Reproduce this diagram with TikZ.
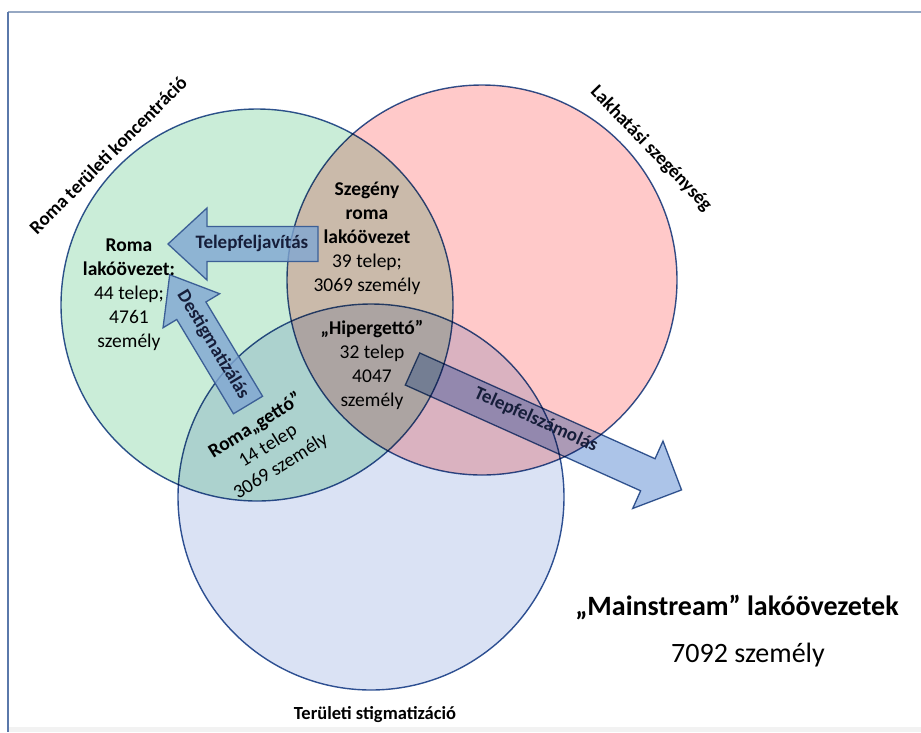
\documentclass[tikz,border=0pt]{standalone}
\usepackage{fontspec}
\setmainfont{Carlito}
\definecolor{cG}{RGB}{202,237,216}
\definecolor{cP}{RGB}{255,201,201}
\definecolor{cB}{RGB}{218,226,244}
\definecolor{cLine}{RGB}{50,85,150}
\definecolor{aFill}{RGB}{128,166,210}
\definecolor{aLine}{RGB}{60,95,150}
\definecolor{bFill}{RGB}{172,196,232}
\definecolor{aText}{RGB}{22,30,58}
\definecolor{frameL}{RGB}{90,120,170}
\definecolor{frameT}{RGB}{150,168,195}
\tikzset{
  venn/.style={draw=cLine, line width=1.4pt, blend mode=multiply},
  arrA/.style={draw=aLine, line width=1.3pt, fill=aFill, fill opacity=0.8},
  arrB/.style={draw=aLine, line width=1.3pt, fill=bFill, blend mode=multiply},
  body/.style={font=\fontsize{19.5}{24}\selectfont, align=center, text=black, inner sep=0pt},
  setlabel/.style={font=\fontsize{19}{22}\selectfont\bfseries, text=black, inner sep=0pt},
  arrlabel/.style={font=\fontsize{19}{22}\selectfont\bfseries, text=aText, inner sep=0pt},
  big/.style={font=\fontsize{28}{32}\selectfont, text=black, inner sep=0pt}
}
\begin{document}
\begin{tikzpicture}[x=1pt,y=-1pt]
\useasboundingbox (0,0) rectangle (921,732);
\fill[white] (0,0) rectangle (921,732);
\fill[black!5] (8,727) rectangle (921,732);
\draw[frameT, line width=1.2pt] (8,12) -- (921,12);
\draw[frameL, line width=1.4pt] (8,12) -- (8,732);
% circles
\path[venn, fill=cG] (257,305) circle[radius=196pt];
\path[venn, fill=cP] (482,280) circle[radius=195pt];
\path[venn, fill=cB] (371,497) circle[radius=193pt];
% arrows
\begin{scope}[shift={(318,244)}, rotate=180]
  \path[arrA] (0,17.5) -- (111,17.5) -- (111,36) -- (150,0) -- (111,-36) -- (111,-17.5) -- (0,-17.5) -- cycle;
\end{scope}
\begin{scope}[shift={(248,405)}, rotate=121]
  \path[arrA] (0,17) -- (110,17) -- (110,33) -- (152,0) -- (110,-33) -- (110,-17) -- (0,-17) -- cycle;
\end{scope}
\begin{scope}[shift={(412.5,369)}, rotate=-24.2]
  \path[arrB] (0,17.6) -- (258,17.6) -- (258,37) -- (295,0) -- (258,-37) -- (258,-17.6) -- (0,-17.6) -- cycle;
\end{scope}
% set labels
\node[setlabel, rotate=45] (lRoma) at (108,155) {Roma területi koncentráció};
\node[setlabel, rotate=-46] (lLak) at (651,149) {Lakhatási szegénység};
\node[setlabel, font=\fontsize{18.5}{22}\selectfont\bfseries] (lTer) at (375,715) {Területi stigmatizáció};
% arrow labels
\node[arrlabel] (tJav) at (252,243) {Telepfeljavítás};
\node[arrlabel, rotate=-59] (tDes) at (213,345) {Destigmatizálás};
\node[arrlabel, rotate=-24.2] (tFel) at (536,420) {Telepfelszámolás};
% region texts
\node[body] (rRoma) at (129,295) {\textbf{Roma}\\\textbf{lakóövezet:}\\44 telep;\\4761\\személy};
\node[body] (rSzeg) at (367,238.5) {\textbf{Szegény}\\\textbf{roma}\\\textbf{lakóövezet}\\39 telep;\\3069 személy};
\node[body] (rHip) at (372,364.5) {\textbf{„Hipergettó”}\\32 telep\\4047\\személy};
\node[body, rotate=32] (rGet) at (268,446) {\textbf{Roma„gettó”}\\14 telep\\3069 személy};
% mainstream
\node[big, font=\fontsize{28}{32}\selectfont\bfseries] (mMain) at (737,607) {„Mainstream” lakóövezetek};
\node[big] (mNum) at (748,655) {7092 személy};
\end{tikzpicture}
\end{document}
